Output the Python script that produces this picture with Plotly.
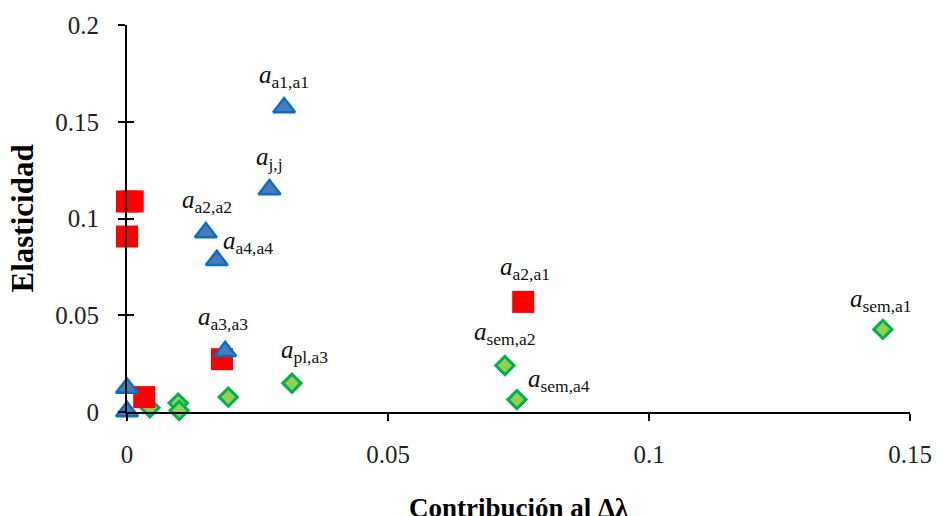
import plotly.graph_objects as go

# ---- data ----
x_tri = [0.0301, 0.0273, 0.0151, 0.0172, 0.0188, 0.0, 0.0]
y_tri = [0.1574, 0.1150, 0.0928, 0.0784, 0.0314, 0.0124, 0.0003]

x_sq = [0.0, 0.0011, 0.0, 0.0182, 0.0033, 0.0759]
y_sq = [0.1088, 0.1088, 0.0907, 0.0273, 0.0077, 0.0569]

x_dia = [0.0044, 0.0098, 0.0100, 0.0194, 0.0316, 0.0724, 0.0747, 0.1448]
y_dia = [0.0022, 0.0046, 0.0008, 0.0077, 0.0149, 0.0240, 0.0064, 0.0427]

x_ticks = [0, 0.05, 0.1, 0.15]
x_ticktext = ["0", "0.05", "0.1", "0.15"]
y_ticks = [0, 0.05, 0.1, 0.15, 0.2]
y_ticktext = ["0", "0.05", "0.1", "0.15", "0.2"]

x_title = "Contribución al Δλ"
y_title = "Elasticidad"

# labels: (subscript, series, index in series)
labels = [
    ("a1,a1", "tri", 0),
    ("j,j", "tri", 1),
    ("a2,a2", "tri", 2),
    ("a4,a4", "tri", 3),
    ("a3,a3", "tri", 4),
    ("pl,a3", "dia", 4),
    ("a2,a1", "sq", 5),
    ("sem,a2", "dia", 5),
    ("sem,a4", "dia", 6),
    ("sem,a1", "dia", 7),
]

# ---- styling ----
label_shift = {  # pixel offsets of label from its point (x, y up)
    "a1,a1": (0, 31), "j,j": (0, 31), "a2,a2": (1, 31), "a4,a4": (31, 18),
    "a3,a3": (-2, 33), "pl,a3": (13, 32), "a2,a1": (2, 33),
    "sem,a2": (0, 32), "sem,a4": (42, 19), "sem,a1": (-2, 29),
}
SERIF = "Liberation Serif"
series = {"tri": (x_tri, y_tri), "sq": (x_sq, y_sq), "dia": (x_dia, y_dia)}

fig = go.Figure()
fig.add_trace(go.Scatter(
    x=x_dia, y=y_dia, mode="markers", cliponaxis=False,
    marker=dict(symbol="diamond", size=14, color="#92d050",
                line=dict(color="#00b050", width=3))))
fig.add_trace(go.Scatter(
    x=x_sq, y=y_sq, mode="markers", cliponaxis=False,
    marker=dict(symbol="square", size=22, color="#ff0000",
                line=dict(color="#ff0000", width=0))))
fig.add_trace(go.Scatter(
    x=x_tri, y=y_tri, mode="markers", cliponaxis=False,
    marker=dict(symbol="triangle-up", size=19, color="#4a7ab8",
                line=dict(color="#0a6ec4", width=2.5))))

for sub, s, i in labels:
    xs, ys = series[s]
    dx, dy = label_shift[sub]
    fig.add_annotation(
        x=xs[i], y=ys[i], xref="x", yref="y", showarrow=False,
        text="<i>a</i><sub>" + sub + "</sub>",
        font=dict(family=SERIF, size=25, color="#111111"),
        xshift=dx, yshift=dy)

# axis titles
fig.add_annotation(x=0.5, y=0, xref="paper", yref="paper", showarrow=False,
                   text="<b>" + x_title + "</b>", yanchor="middle", yshift=-96,
                   font=dict(family=SERIF, size=27, color="#000000"))
fig.add_annotation(x=0, y=0.5, xref="paper", yref="paper", showarrow=False,
                   text="<b>" + y_title + "</b>", xanchor="center", textangle=-90,
                   xshift=-105, font=dict(family=SERIF, size=31, color="#000000"))

tickfont = dict(family=SERIF, size=25, color="#222222")
fig.update_layout(
    width=944, height=516, showlegend=False,
    margin=dict(l=127, r=24, t=24, b=104),
    paper_bgcolor="white", plot_bgcolor="white",
    xaxis=dict(range=[0, 0.15], tickvals=x_ticks, ticktext=x_ticktext,
               showgrid=False, zeroline=False, showline=True, linecolor="black",
               linewidth=2, ticks="outside", ticklen=7, tickwidth=2,
               tickcolor="black", tickfont=tickfont, ticklabelstandoff=12),
    yaxis=dict(range=[0, 0.2], tickvals=y_ticks, ticktext=y_ticktext,
               showgrid=False, zeroline=False, showline=True, linecolor="black",
               linewidth=2, ticks="outside", ticklen=7, tickwidth=2,
               tickcolor="black", tickfont=tickfont, ticklabelstandoff=14),
    yaxis2=dict(range=[0, 0.2], tickvals=y_ticks, overlaying="y", anchor="x",
                side="left", showgrid=False, zeroline=False, showline=False,
                ticks="inside", ticklen=7, tickwidth=2, tickcolor="black",
                showticklabels=False),
)
fig.add_trace(go.Scatter(x=[None], y=[None], yaxis="y2", showlegend=False,
                         hoverinfo="skip"))

fig.write_html("out.html")
